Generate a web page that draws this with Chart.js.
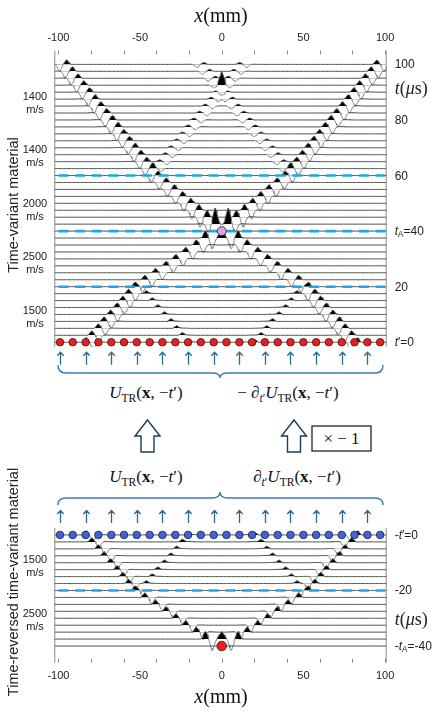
<!DOCTYPE html>
<html>
<head>
<meta charset="utf-8">
<title>Time-reversal focusing in a time-variant material</title>
<script src="https://cdn.jsdelivr.net/npm/chart.js@4.4.1/dist/chart.umd.min.js"></script>
<style>
  body { margin: 0; background: #fff; }
  #page { position: relative; width: 439px; height: 714px; overflow: hidden; font-family: "Liberation Sans", Arial, sans-serif; color: #222; }
  canvas { position: absolute; left: 0; }
  .lab { position: absolute; font-size: 11px; line-height: 13px; white-space: nowrap; transform: translateY(-50%); }
  .spd { position: absolute; left: 10px; width: 50px; text-align: center; font-size: 11px; line-height: 13px; transform: translateY(-50%); }
  .tex { position: absolute; font-family: "Liberation Serif", "DejaVu Serif", serif; white-space: nowrap; color: #111; transform: translate(-50%, -50%); }
  .rot { position: absolute; font-size: 14.5px; white-space: nowrap; transform: translate(-50%, -50%) rotate(-90deg); }
  sub { font-size: 68%; vertical-align: -0.35em; line-height: 0; }
  svg { position: absolute; left: 0; top: 0; }
</style>
</head>
<body>
<div id="page">
  <canvas id="topChart" width="439" height="372" style="top:0"></canvas>
  <canvas id="bottomChart" width="439" height="214" style="top:500px"></canvas>

  <div class="tex" style="left:221px; top:15px; font-size:20px"><i>x</i>(mm)</div>
  <div class="tex" style="left:221px; top:696px; font-size:20px"><i>x</i>(mm)</div>

  <div class="rot" style="left:13px; top:205px">Time-variant material</div>
  <div class="rot" style="left:13px; top:582px">Time-reversed time-variant material</div>

  <div class="tex" style="left:146px; top:393px; font-size:17px"><i>U</i><sub>TR</sub>(<b>x</b>, −<i>t</i>′)</div>
  <div class="tex" style="left:288px; top:393px; font-size:17px">− ∂<sub><i>t</i>′</sub><i>U</i><sub>TR</sub>(<b>x</b>, −<i>t</i>′)</div>
  <div class="tex" style="left:146px; top:477px; font-size:17px"><i>U</i><sub>TR</sub>(<b>x</b>, −<i>t</i>′)</div>
  <div class="tex" style="left:297px; top:477px; font-size:17px">∂<sub><i>t</i>′</sub><i>U</i><sub>TR</sub>(<b>x</b>, −<i>t</i>′)</div>
  <div class="tex" style="left:341.5px; top:438.5px; font-size:17px">× − 1</div>

  <svg width="439" height="714">
    <g fill="none" stroke="#3b7fa8" stroke-width="1.4">
      <path d="M58,365 Q58,373 66,373 L212,373 Q220,373 220,378 Q220,373 228,373 L375,373 Q383,373 383,365"/>
      <path d="M58,505 Q58,498 66,498 L212,498 Q220,498 220,492 Q220,498 228,498 L375,498 Q383,498 383,505"/>
    </g>
    <g fill="#fff" stroke="#1d3b5a" stroke-width="1.4" stroke-linejoin="miter">
      <polygon points="147.5,420 160,436 154,436 154,452 141,452 141,436 135,436"/>
      <polygon points="294,420 306.5,436 300.5,436 300.5,452 287.5,452 287.5,436 281.5,436"/>
    </g>
    <rect x="312" y="426" width="59" height="25" fill="none" stroke="#222" stroke-width="1.3"/>
  </svg>
</div>

<script>
// ---------------- data ----------------
const xTickMarks = [-100, -80, -60, -40, -20, 0, 20, 40, 60, 80, 100];
const xTickLabels = [-100, -50, 0, 50, 100];

// source positions (mm) on the t'=0 line
const sourceX = [-99, -91.2, -83.3, -75.5, -67.6, -59.8, -52, -44.1, -36.3, -28.4, -20.6, -12.8, -4.9,
                 2.9, 10.8, 18.6, 26.4, 34.3, 42.1, 50, 57.8, 65.6, 73.5, 81.3, 89.2, 97];

// trace times (us)
const topTimes = [0, 2.5, 5, 7.5, 10, 12.5, 15, 17.5, 20, 22.5, 25, 27.5, 30, 32.5, 35, 37.5, 40,
                  42.5, 45, 47.5, 50, 52.5, 55, 57.5, 60, 62.5, 65, 67.5, 70, 72.5, 75, 77.5, 80,
                  82.5, 85, 87.5, 90, 92.5, 95, 97.5, 100];
const bottomTimes = [0, -2.5, -5, -7.5, -10, -12.5, -15, -17.5, -20, -22.5, -25, -27.5, -30,
                     -32.5, -35, -37.5, -40];
const topDashed = [20, 40, 60];
const bottomDashed = [-20];

// wave front positions (left branch, mm; right branch is its mirror) and amplitudes
const inTimes = [0, 2.5, 5, 7.5, 10, 12.5, 15, 17.5, 20, 22.5, 25, 27.5, 30, 32.5, 35, 37.5];
const inX = [-80, -76.5, -72.5, -69, -65, -61, -57.5, -54, -50, -44, -37.5, -31, -25, -19, -12.5, -7];
const inAmpTop = [1, 1, 1, 1, 1, 1, 1, 1, 1, 1, 1, 1, 1, 1.05, 1.15, 1.6];
const inAmpBottom = [0.9, 0.9, 0.9, 0.9, 0.9, 0.9, 0.95, 0.95, 1, 1, 1, 1, 1, 1.05, 1.1, 1.7];

const outTimes = [42.5, 45, 47.5, 50, 52.5, 55, 57.5, 60, 62.5, 65, 67.5, 70, 72.5, 75, 77.5, 80,
                  82.5, 85, 87.5, 90, 92.5, 95, 97.5, 100];
const outX = [-7, -12, -17, -22, -27, -32, -37, -42, -45.5, -49, -52.5, -56, -59.5, -63, -66.5, -70,
              -73.5, -77, -80.5, -84, -87.5, -91, -94.5, -98];
const outAmp = [1.2, 1.5, 1.3, 1.15, 1.1, 1.05, 1, 1, 1, 1, 1, 1, 1, 1, 1, 1, 1, 1, 1, 1, 1, 1, 1, 1];

const innerTimes = [0, 2.5, 5, 7.5, 10, 12.5, 15, 17.5, 20];
const innerX = [-20, -24, -27.5, -31, -35, -39, -42.5, -46, -50];
const innerAmp = [0.7, 0.7, 0.7, 0.7, 0.7, 0.7, 0.7, 0.7, 0.7];

const echoTimes = [62.5, 65, 67.5, 70, 72.5, 75, 77.5, 80, 82.5, 85, 87.5, 90, 92.5, 95, 97.5, 100];
const echoX = [-38.5, -35, -31.5, -28, -24.5, -21, -17.5, -14, -10.5, -7, -3.5, 0, 3.5, 7, 10.5, 14];
const echoAmp = [0.42, 0.42, 0.42, 0.42, 0.42, 0.42, 0.42, 0.42, 0.42, 0.42, 0.42, 0.4, 0.4, 0.45, 0.45, 0.45];

// focal peaks: time, position, height (us)
const focusTimesTop = [37.5, 42.5, 42.5, 92.5];
const focusXTop = [0, -4, 4, 0];
const focusAmpTop = [2.6, 3.9, 3.9, 3.8];
const focusTimesBottom = [-37.5];
const focusXBottom = [0];
const focusAmpBottom = [2.4];

// pulse shapes sampled every 0.5 mm (for a wave travelling toward +x)
const waveShape = [0, 0.1, 0.3, 0.65, 1.05, 1.4, 1.6, 1.35, 0.95, 0.5, 0.05, -0.6, -1.3, -1.9, -2.35,
                   -2.4, -1.9, -1.3, -0.7, -0.25, 0, 0.06, 0.1, 0.1, 0.1, 0.09,
                   0.08, 0.07, 0.06, 0.05, 0.04, 0.03, 0.02, 0.01, 0];
const waveZero = 12;
const bumpShape = [0, 0.3, 0.6, 0.9, 1.2, 1.4, 1.1, 0.8, 0.5, 0.3, 0.2, 0.18, 0.16, 0.15, 0.14, 0.13,
                   0.12, 0.1, 0.08, 0.06, 0.04, 0.02, 0];
const bumpZero = 5;
const pulseShape = [0, 0.17, 0.33, 0.5, 0.67, 0.83, 1, 0.83, 0.67, 0.5, 0.33, 0.17, 0];
const pulseZero = 6;

// ---------------- build traces ----------------
const X_MIN = -102.5, X_MAX = 101, X_STEP = 0.5;
const xGrid = [];
for (let x = X_MIN; x <= X_MAX + 1e-9; x += X_STEP) xGrid.push(Math.round(x * 2) / 2);

const key = t => t.toFixed(1);
const wave = { vals: waveShape, zero: waveZero };
const bump = { vals: bumpShape, zero: bumpZero };
const pulse = { vals: pulseShape, zero: pulseZero };

function addBranch(rows, times, xs, amps, shape, dir, mirror) {
  times.forEach((t, i) => {
    const k = key(t);
    if (!rows.has(k)) rows.set(k, []);
    rows.get(k).push({ c: xs[i], a: amps[i], s: shape, d: dir });
    if (mirror) rows.get(k).push({ c: -xs[i], a: amps[i], s: shape, d: -dir });
  });
}

function traceDatasets(times, rows, baseOrder) {
  return times.map(t => {
    const arrivals = rows.get(key(t)) || [];
    const pts = xGrid.map(x => {
      let v = 0;
      arrivals.forEach(w => {
        const i = w.s.zero + w.d * Math.round((x - w.c) / X_STEP);
        if (i >= 0 && i < w.s.vals.length) v += w.a * w.s.vals[i];
      });
      return { x: x, y: t + v };
    });
    const below = c => c.p0.parsed.y < t - 0.05 || c.p1.parsed.y < t - 0.05;
    return {
      data: pts,
      order: baseOrder + t,
      pointRadius: 0,
      borderWidth: 1,
      borderJoinStyle: 'miter',
      fill: { target: { value: t }, above: '#000', below: 'rgba(0,0,0,0)' },
      segment: {
        borderColor: c => below(c) ? '#7d7d7d' : '#444',
        borderWidth: c => below(c) ? 0.9 : 1
      }
    };
  });
}

function dashedDatasets(times) {
  return times.map(t => ({
    data: [{ x: -100, y: t }, { x: 100, y: t }],
    order: 1,
    borderColor: '#1ea6e8',
    borderWidth: 2.6,
    borderDash: [10, 6.7],
    pointRadius: 0,
    fill: false
  }));
}

function dotDataset(xs, t, fillColor, radius) {
  return {
    data: xs.map(x => ({ x: x, y: t })),
    order: 0,
    showLine: false,
    pointRadius: radius,
    pointBackgroundColor: fillColor,
    pointBorderColor: '#222',
    pointBorderWidth: 0.8,
    fill: false
  };
}

const topRows = new Map();
addBranch(topRows, inTimes, inX, inAmpTop, wave, 1, true);
addBranch(topRows, outTimes, outX, outAmp, wave, -1, true);
addBranch(topRows, innerTimes, innerX, innerAmp, bump, 1, true);
addBranch(topRows, echoTimes, echoX, echoAmp, wave, 1, true);
addBranch(topRows, focusTimesTop, focusXTop, focusAmpTop, pulse, 1, false);

const bottomRows = new Map();
addBranch(bottomRows, inTimes.map(t => -t), inX, inAmpBottom, wave, 1, true);
addBranch(bottomRows, innerTimes.map(t => -t), innerX, innerAmp, bump, 1, true);
addBranch(bottomRows, focusTimesBottom, focusXBottom, focusAmpBottom, pulse, 1, false);

// ---------------- labels placed from the y scale ----------------
const page = document.getElementById('page');
function makeLabel(cls, html) {
  const el = document.createElement('div');
  el.className = cls;
  el.innerHTML = html;
  page.appendChild(el);
  return el;
}

const topRight = [
  { t: 100, html: '100' }, { t: 91.5, html: '<i>t</i>(<i>μ</i>s)', tex: true }, { t: 80, html: '80' },
  { t: 60, html: '60' }, { t: 40, html: '<i>t</i><sub>A</sub>=40' }, { t: 20, html: '20' },
  { t: 0, html: '<i>t</i>′=0' }
];
const bottomRight = [
  { t: 0, html: '-<i>t</i>′=0' }, { t: -20, html: '-20' }, { t: -30.3, html: '<i>t</i>(<i>μ</i>s)', tex: true },
  { t: -40, html: '-<i>t</i><sub>A</sub>=-40' }
];
const speedTop = ['1400', '1400', '2000', '2500', '1500'];
const speedTopT = [86, 67, 47.5, 28.5, 9];
const speedBottom = ['1500', '2500'];
const speedBottomT = [-11.2, -30.5];

function buildLabels(rightList, speeds, speedT) {
  const right = rightList.map(r => {
    const el = makeLabel('lab', r.html);
    if (r.tex) { el.style.fontFamily = '"Liberation Serif", "DejaVu Serif", serif'; el.style.fontSize = '18px'; el.style.lineHeight = '20px'; }
    else { el.style.fontSize = '12px'; }
    return { el: el, t: r.t };
  });
  const left = speeds.map((s, i) => ({ el: makeLabel('spd', s + '<br>m/s'), t: speedT[i] }));
  return { right: right, left: left };
}
const topLabels = buildLabels(topRight, speedTop, speedTopT);
const bottomLabels = buildLabels(bottomRight, speedBottom, speedBottomT);

// ---------------- decoration plugin: frame, inward ticks, source arrows ----------------
const panelDecor = {
  id: 'panelDecor',
  afterDraw(chart, args, opts) {
    const { ctx, chartArea: a } = chart;
    const xs = chart.scales.x, ys = chart.scales.y;
    ctx.save();
    ctx.strokeStyle = '#8a8a8a';
    ctx.lineWidth = 1;
    ctx.beginPath();
    ctx.moveTo(a.left + 0.5, a.top); ctx.lineTo(a.left + 0.5, a.bottom);
    ctx.moveTo(a.right - 0.5, a.top); ctx.lineTo(a.right - 0.5, a.bottom);
    const edge = opts.tickEdge === 'top' ? a.top : a.bottom;
    const dir = opts.tickEdge === 'top' ? 1 : -1;
    xTickMarks.forEach(v => {
      const px = Math.round(xs.getPixelForValue(v)) + 0.5;
      ctx.moveTo(px, edge); ctx.lineTo(px, edge + dir * 4);
    });
    ctx.stroke();

    // small arrows above / below every second source
    const y0 = opts.arrowTop(a), y1 = y0 + 13;
    ctx.strokeStyle = '#2d6a8c';
    ctx.lineWidth = 1.3;
    ctx.beginPath();
    sourceX.forEach((sx, i) => {
      if (i % 2) return;
      const px = Math.round(xs.getPixelForValue(sx)) + 0.5;
      ctx.moveTo(px, y1); ctx.lineTo(px, y0 + 0.5);
      ctx.moveTo(px - 3.2, y0 + 4); ctx.lineTo(px, y0 + 0.5); ctx.lineTo(px + 3.2, y0 + 4);
    });
    ctx.stroke();
    ctx.restore();

    // place html labels from the time scale
    const top = chart.canvas.offsetTop;
    opts.labels.right.forEach(l => {
      l.el.style.left = (a.right + 8) + 'px';
      l.el.style.top = (top + ys.getPixelForValue(l.t)) + 'px';
    });
    opts.labels.left.forEach(l => {
      l.el.style.top = (top + ys.getPixelForValue(l.t)) + 'px';
    });
  }
};

function axisX(position, height, pad) {
  return {
    type: 'linear', position: position, min: X_MIN, max: X_MAX,
    afterBuildTicks: s => { s.ticks = xTickLabels.map(v => ({ value: v })); },
    afterFit: s => { s.height = height; },
    grid: { display: false, drawTicks: false },
    border: { display: false },
    ticks: { color: '#222', padding: pad, maxRotation: 0, autoSkip: false,
             font: { family: '"Liberation Sans", Arial, sans-serif', size: 11 } }
  };
}

const common = {
  responsive: false,
  animation: false,
  events: [],
  plugins: { legend: { display: false }, tooltip: { enabled: false } }
};

new Chart(document.getElementById('topChart'), {
  type: 'line',
  data: {
    datasets: [
      dotDataset(sourceX, 0, '#f01c1c', 3.8),
      dotDataset([0], 40, '#e3a2e2', 4.5),
      ...dashedDatasets(topDashed),
      ...traceDatasets(topTimes, topRows, 5)
    ]
  },
  options: Object.assign({}, common, {
    layout: { padding: { left: 54.3, right: 52.3, top: 0, bottom: 25.3 } },
    scales: {
      x: axisX('top', 50.5, 5.5),
      y: { display: false, min: -1.6, max: 105 }
    },
    plugins: Object.assign({}, common.plugins, {
      panelDecor: { tickEdge: 'top', arrowTop: a => a.bottom + 5, labels: topLabels }
    })
  }),
  plugins: [panelDecor]
});

new Chart(document.getElementById('bottomChart'), {
  type: 'line',
  data: {
    datasets: [
      dotDataset(sourceX, 0, '#3d63de', 3.8),
      dotDataset([0], -40, '#f01c1c', 4.8),
      ...dashedDatasets(bottomDashed),
      ...traceDatasets(bottomTimes, bottomRows, 50)
    ]
  },
  options: Object.assign({}, common, {
    layout: { padding: { left: 54.3, right: 52.3, top: 28, bottom: 0 } },
    scales: {
      x: axisX('bottom', 51.3, 6.5),
      y: { display: false, min: -46, max: 2.5 }
    },
    plugins: Object.assign({}, common.plugins, {
      panelDecor: { tickEdge: 'bottom', arrowTop: a => a.top - 18, labels: bottomLabels }
    })
  }),
  plugins: [panelDecor]
});
</script>
</body>
</html>
